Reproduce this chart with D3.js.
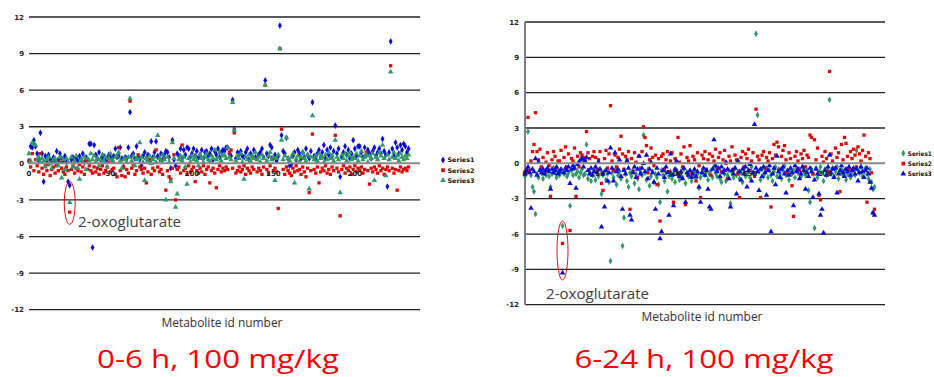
<!DOCTYPE html>
<html>
<head>
<meta charset="utf-8">
<script src="https://cdn.jsdelivr.net/npm/d3@7"></script>
<style>
  body { margin: 0; background: #fff; }
  svg { display: block; }
</style>
</head>
<body>
<svg id="chart" width="934" height="377"></svg>
<script>
// ---- data: fold change per metabolite ----
var yTicks = [-12, -9, -6, -3, 0, 3, 6, 9, 12];
var xTicks = [0, 50, 100, 150, 200];
var seriesNames = ["Series1", "Series2", "Series3"];

// 0-6 h
var early1 = [0.2,1.4,1.3,1.9,1.4,0.8,0.2,2.5,0.8,-1.5,0.6,0.1,0.7,0.3,0.2,0.5,0.1,1.0,0.3,0.8,
  0.4,0.2,0.6,0.1,-1.5,-1.8,0.3,0.5,0.2,0.4,0.2,0.6,0.3,0.8,0.1,0.5,0.3,1.6,1.6,-6.9,
  1.5,0.7,0.4,0.9,0.3,0.5,0.6,0.2,0.4,0.7,0.5,0.3,0.6,1.2,0.5,0.6,1.3,0.4,-0.3,0.5,
  0.4,1.3,4.2,0.6,0.8,0.4,1.4,0.5,0.3,-0.2,0.6,0.9,0.4,0.7,0.2,1.8,0.5,0.9,1.8,0.6,
  0.4,0.8,0.3,0.7,1.0,0.9,0.5,-0.4,1.9,0.3,-0.2,0.8,0.6,1.2,0.4,1.1,0.7,1.3,1.2,0.5,
  0.8,1.2,0.6,1.0,0.5,0.7,1.1,0.4,0.9,1.0,0.6,0.8,1.2,0.3,1.0,0.7,1.2,0.5,0.9,1.1,
  1.0,1.3,1.3,0.8,0.6,5.2,2.8,0.4,0.9,0.7,1.0,0.6,0.5,0.9,1.2,0.3,0.8,0.6,1.1,0.5,
  0.4,0.7,0.9,1.2,0.5,6.8,0.8,0.6,1.5,1.3,0.4,0.7,0.2,0.6,11.3,2.3,1.0,0.8,2.1,0.4,
  -0.2,-0.1,0.6,0.9,0.3,1.1,0.8,0.4,0.9,0.5,1.2,0.7,0.4,1.0,5.0,0.6,0.3,0.8,1.1,0.5,
  0.9,1.5,0.4,1.1,0.7,1.3,0.6,1.0,3.1,0.8,1.2,-1.1,0.5,0.9,1.4,0.7,1.1,0.4,0.8,1.9,
  1.2,0.6,1.4,1.4,0.9,0.5,1.3,0.7,1.1,0.8,0.4,1.0,1.3,0.6,0.9,1.2,0.8,2.0,1.0,0.7,
  -1.9,0.9,10.0,1.2,0.6,1.7,1.3,0.8,1.5,1.1,1.6,1.4,0.9,1.2];
var early2 = [0.2,-0.3,0.8,-0.6,0.3,-0.2,-0.7,0.8,-0.4,-0.9,-0.2,-0.6,-0.1,-1.0,-0.5,-0.3,-0.8,-0.2,-0.6,0.1,
  -0.4,-0.7,-0.9,-0.3,-0.6,-4.0,-0.5,-0.2,-0.8,-0.4,-0.6,-0.1,-0.7,-0.3,-0.9,0.2,-0.5,-0.2,-0.6,-0.8,
  -0.3,-0.7,-0.4,-0.9,-0.5,-0.2,-0.8,-0.6,-0.3,0.1,-0.7,-0.5,-0.4,-0.9,-1.1,1.3,-0.6,-1.0,-0.3,-1.1,
  -0.5,-0.8,5.1,-0.4,-0.2,-0.9,-0.6,0.7,-0.3,-0.5,-0.8,-0.4,-1.6,-0.7,0.3,-0.9,-0.4,-0.6,1.1,-0.3,
  -0.7,-0.5,-0.9,0.4,-2.2,-0.6,-1.1,-1.3,-0.4,0.7,-3.0,-0.5,-0.3,-0.8,1.5,-0.6,-0.4,-0.9,-0.2,-0.7,
  -0.5,-0.3,-1.5,-0.6,-0.8,-0.4,-0.7,-0.2,-0.9,-0.5,-0.3,-1.6,-0.6,-0.4,-0.8,-2.0,-0.5,-0.2,-0.7,-0.4,
  -0.6,-0.3,-0.5,0.9,1.1,-0.4,2.5,-0.8,-0.6,-0.3,-0.7,-0.5,-0.2,-0.9,-0.4,-0.6,-0.8,-0.3,-0.5,0.4,
  -0.7,-0.4,-0.6,-0.9,-0.3,6.4,-0.5,-0.8,-0.2,0.5,-0.6,-0.4,-0.7,-3.7,9.4,2.8,-0.5,-0.9,-0.3,-0.6,
  -0.8,-1.0,-0.4,-0.7,-0.2,-0.6,-0.5,-0.9,-0.3,-0.7,-1.1,-0.4,-2.4,-0.6,2.4,-0.5,-0.8,-0.3,-1.6,-0.7,
  -0.4,-0.6,-0.2,-0.8,-0.5,-0.9,-0.3,-0.6,2.3,-0.4,-0.7,-4.3,-0.5,-0.2,-0.8,-0.4,-0.6,-0.3,-0.9,-0.5,
  -0.2,-0.7,-0.4,-0.6,-0.3,-0.8,-0.5,0.9,-0.6,-1.7,-0.4,-0.7,-0.3,-0.5,-0.8,-0.2,-0.6,-0.4,-0.9,-0.5,
  -0.3,-0.6,8.0,-0.4,-0.8,-0.5,-2.2,-0.6,-0.3,-0.7,-0.5,-0.4,-0.6,-0.3];
var early3 = [0.8,0.2,1.7,1.6,1.5,0.3,0.5,0.1,0.4,0.2,-0.3,0.3,0.5,0.0,-0.4,0.3,0.4,0.1,-0.2,0.5,
  -1.2,0.3,-0.5,0.4,0.1,-3.2,0.5,-0.3,0.2,0.6,-0.4,-1.3,0.3,0.1,0.5,-0.5,0.4,0.2,0.8,0.3,
  0.6,0.1,0.4,-0.2,0.3,0.7,0.2,0.5,-0.3,0.4,0.8,0.3,0.1,0.5,0.6,0.9,0.2,-0.4,0.3,0.4,
  0.1,0.5,5.3,0.2,0.6,-0.2,0.4,0.3,1.7,0.5,0.1,-1.4,0.4,0.2,0.6,0.0,0.3,0.5,0.1,2.3,
  0.4,0.2,0.7,0.3,-3.0,0.5,0.1,-1.5,1.7,0.4,-3.6,-2.5,0.3,0.6,0.2,0.5,-0.3,-1.7,0.4,0.1,
  0.6,0.3,0.5,0.2,-0.2,0.7,0.4,0.1,0.5,0.8,0.3,0.2,0.6,0.4,1.1,0.3,0.5,0.9,0.2,0.6,
  0.7,0.4,1.3,0.5,0.3,5.0,2.7,0.2,0.6,0.4,0.8,0.1,-1.3,0.5,0.3,0.7,0.2,0.6,0.4,0.9,
  0.3,0.5,0.1,0.7,0.4,6.4,0.2,0.6,0.9,0.3,0.5,-1.4,0.4,0.7,9.4,1.9,0.3,0.6,2.1,0.4,
  0.2,0.5,0.8,-1.6,0.3,0.6,0.1,0.5,0.9,0.4,0.2,0.7,-2.1,0.5,3.9,0.3,0.6,0.2,0.8,0.4,
  0.5,0.1,0.7,0.3,0.9,0.4,0.6,0.2,1.9,0.5,0.3,-2.4,0.7,0.4,0.8,0.2,0.6,0.9,0.3,0.5,
  0.4,0.8,0.2,0.6,1.0,0.3,0.5,0.7,0.1,0.6,0.4,0.8,-1.4,0.5,0.3,0.9,0.6,1.5,0.4,-1.0,
  0.7,0.3,7.5,0.5,0.9,0.4,0.6,0.2,0.8,0.5,0.3,0.6,0.4,0.7];

// 6-24 h
var late1 = [-1.1,-0.8,2.7,-0.6,-1.0,-2.0,-2.4,-4.3,-0.9,-1.2,-0.5,-0.8,-1.3,-0.7,-1.0,-0.6,-1.1,-2.0,-0.9,-0.4,
  -0.8,-1.2,-0.6,-1.0,-0.7,-5.3,-0.9,-0.5,-1.1,-0.8,-3.6,-0.6,-1.0,-0.4,-0.9,-0.7,-1.2,-0.8,-0.5,-1.0,
  -0.9,1.6,-1.3,-0.7,-1.5,-1.0,-0.6,-1.4,-0.8,-1.1,-0.5,-2.6,-1.0,-0.7,-1.4,-0.9,-1.6,-8.3,-0.8,-1.2,
  -0.6,-1.8,-1.0,-0.7,-1.3,-7.0,-4.6,-0.9,-1.5,-2.0,-0.8,-1.1,-0.6,-1.7,-0.9,-1.3,-2.2,-0.7,-1.0,2.4,
  -0.8,-1.4,-0.5,-1.9,-1.1,-0.7,-1.6,-0.9,-1.2,-1.8,-3.3,-0.6,-1.0,-1.5,-0.8,-2.4,-1.1,-0.7,-1.3,-0.9,
  -1.6,-0.6,-1.0,-1.4,-0.8,-1.2,-0.5,-1.7,-0.9,-1.1,-0.7,-1.5,-1.0,-0.6,-1.3,-0.9,-2.1,-1.2,-0.8,-0.5,
  -1.0,-0.7,-1.4,-0.9,-0.6,-1.2,-0.3,-0.8,-1.1,-0.5,-1.3,-1.6,-0.7,-0.9,-1.5,-1.0,-0.6,-3.4,-0.8,-1.2,
  -0.4,-1.0,-0.7,-1.3,-0.8,-1.6,-0.5,-1.1,-0.9,-0.6,-1.2,-0.3,-0.8,-1.0,11.0,4.1,-0.7,-1.4,-0.5,-1.1,
  -0.8,-0.4,-1.2,-0.6,-1.0,-1.5,-0.7,-0.3,-1.1,-0.5,-0.9,-1.3,-0.6,-0.2,-1.0,-0.8,-1.4,-0.5,-0.9,-0.6,
  -1.2,-0.4,-0.8,-0.5,-1.1,-0.3,-0.7,-1.0,-0.6,-2.3,-3.3,-0.5,-0.9,-5.5,-0.4,-1.2,-0.7,-0.3,-0.8,-1.5,
  -0.5,-1.0,-0.6,5.4,-0.9,-0.4,-1.1,-0.7,-0.3,-1.3,-0.8,-0.5,-1.0,-0.6,-1.4,-0.9,-0.4,-1.2,-0.7,-0.5,
  -1.0,1.1,-0.6,-0.8,-0.3,-1.1,-0.7,-0.4,-0.9,-1.3,-0.5,-1.6,-2.2,-2.0];
var late2 = [-0.7,-0.5,3.9,-0.6,0.2,1.0,1.6,4.3,1.0,0.3,1.2,-0.3,0.5,-0.8,0.1,0.9,-0.2,-2.8,0.3,1.0,
  0.6,-0.4,0.2,0.2,1.1,-6.8,0.5,1.4,-0.3,0.8,-5.7,0.4,0.2,1.3,-2.8,0.6,-0.3,0.9,0.7,0.5,
  0.3,2.7,0.9,0.4,-0.9,0.6,1.0,0.5,-0.5,0.3,1.0,-1.7,-2.3,0.4,1.1,-0.4,0.8,4.9,0.2,-0.6,
  0.7,-0.3,0.5,1.2,2.3,0.8,-0.5,0.6,0.3,1.0,-3.9,0.4,-0.7,0.9,0.1,-1.2,0.6,-0.4,1.0,3.1,
  2.2,1.5,-0.8,0.3,1.3,0.5,-0.2,0.7,-1.8,0.4,-4.9,0.6,0.8,-0.5,0.3,1.0,-0.7,0.2,0.9,-3.3,
  0.4,-0.6,2.2,0.1,0.8,-0.3,1.4,-3.5,0.5,0.2,1.5,-0.8,0.6,0.3,-1.5,0.9,-0.2,-2.9,0.7,0.4,
  1.0,-0.5,0.3,0.8,-1.0,0.6,0.2,1.2,-0.4,0.5,0.9,-0.7,0.3,1.1,0.0,-1.3,0.6,0.2,1.4,-0.5,
  0.7,0.3,-0.9,-2.9,0.5,1.0,-0.3,0.8,0.4,1.2,-0.6,0.2,0.9,-1.1,4.6,0.6,0.3,-2.9,0.7,1.0,
  -0.4,0.5,0.2,0.9,-3.7,0.4,1.6,0.7,1.8,1.4,-0.5,0.6,1.1,1.5,0.3,-0.8,0.9,0.4,-1.9,-4.5,
  0.6,1.0,0.2,-0.6,0.8,0.4,1.1,-0.3,0.7,0.5,2.4,2.2,-0.9,2.0,0.3,1.3,-2.7,-3.1,0.6,0.1,
  1.0,0.4,-0.7,7.8,0.8,0.2,-0.4,1.3,0.5,0.9,-2.4,1.6,0.3,2.2,1.7,0.6,-0.5,1.0,0.4,1.2,
  0.7,-0.3,1.4,0.8,0.2,1.1,2.4,0.6,-3.3,0.9,0.4,-0.8,-4.2,-3.9];
var late3 = [-0.9,-0.6,-0.3,-0.8,-3.8,-0.5,-0.7,0.4,-1.0,0.1,-0.6,-0.8,-0.5,-0.9,-0.6,-0.4,-0.7,-2.2,-0.5,-0.8,
  -0.6,-0.3,-0.9,-0.7,-0.5,-9.3,-0.8,-0.4,-0.6,-0.3,-1.7,-0.5,-0.2,-0.4,-2.1,-0.1,0.1,0.3,0.4,-0.3,
  0.2,0.5,-0.6,-0.9,-0.4,-1.0,-0.7,-0.3,-0.8,0.1,-0.5,-5.4,-0.9,-3.7,-0.6,-1.5,-0.8,1.3,-0.4,-1.5,
  0.9,-0.7,-0.5,0.3,-1.1,-3.9,-0.6,-0.9,0.2,-0.4,-4.4,-4.8,-0.8,-0.3,-1.2,-0.5,0.6,-0.9,-0.4,0.0,
  -0.7,0.7,-1.3,-0.5,0.1,-0.8,-1.6,-3.9,-0.4,-0.9,-6.4,-5.8,-0.6,-1.2,-0.3,-0.8,-4.4,0.8,-1.0,-3.6,
  -0.5,0.2,-0.9,-1.1,-0.7,-1.3,-0.4,-3.3,-0.8,-1.0,-0.6,-1.2,-0.9,-0.5,-1.1,-0.7,-2.0,-3.3,-0.8,-0.4,
  -1.0,-0.6,-2.2,-3.7,-3.9,-0.5,2.0,-0.2,-0.7,-0.4,-1.1,-0.3,-0.8,-0.6,0.1,-0.5,-1.3,-3.7,-0.6,-0.9,
  -0.4,-2.6,0.2,-0.7,-1.4,-0.5,-0.9,-0.3,-2.0,-0.6,-0.1,-1.5,-0.8,3.3,-0.4,-0.7,-2.3,-0.5,-1.1,-0.3,
  -0.8,-2.7,-0.6,-0.2,-5.8,-0.9,-0.4,-1.8,0.6,-0.7,-1.2,-0.5,-0.3,-0.9,-2.5,-0.6,-1.0,-0.4,-0.8,-3.6,
  -0.2,-0.7,-0.5,-1.3,-0.9,-0.3,-0.6,-2.2,-0.8,-1.1,-0.4,-0.7,-2.9,-1.4,-0.5,-0.9,-2.6,-4.4,-3.9,-5.9,
  -0.6,-1.0,-0.3,0.7,-0.8,-0.5,-1.2,-0.4,-2.5,-0.9,-0.6,-0.2,-0.8,-1.1,-0.5,-0.7,-0.3,-1.0,-0.6,-0.4,
  -0.9,-0.5,-1.5,-0.8,-0.3,-0.7,-1.2,-0.6,-0.4,-0.9,-1.6,-2.1,-4.2,-4.4];

// 2-oxoglutarate: metabolite index and the value span the ellipse covers
var oxoIdx = [25, 25];
var oxoSpan = [[-1.5, -5.0], [-4.9, -9.9]];

var blue = "#0b0bd6", red = "#dd0a0a", green = "#2f9a68";

var svg = d3.select("#chart");

var panels = [
  { x0: 29, x1: 420, yTop: 17, yBot: 309.7, yAxisLine: false,
    series: [early1, early2, early3], colors: [blue, red, green],
    legendX: 443, legendY: 160, legendGap: 10.2, legendW: 27,
    title: "0-6 h, 100 mg/kg", titleX: 218, titleW: 242,
    xTitleX: 222, xTitleY: 327,
    noteX: 78, noteY: 227, noteW: 103 },
  { x0: 525, x1: 885, yTop: 22, yBot: 304.7, yAxisLine: true,
    series: [late1, late2, late3], colors: [green, red, blue],
    legendX: 903.3, legendY: 153.3, legendGap: 10.3, legendW: 24,
    title: "6-24 h, 100 mg/kg", titleX: 704, titleW: 259,
    xTitleX: 702, xTitleY: 321,
    noteX: 546, noteY: 299, noteW: 103 }
];

var shapes = [d3.symbolDiamond, d3.symbolSquare, d3.symbolTriangle];
var shapeSize = [13, 11, 13];

panels.forEach(function(p, pi) {
  var x = d3.scaleLinear().domain([0, 240]).range([p.x0, p.x1]);
  var y = d3.scaleLinear().domain([-12, 12]).range([p.yBot, p.yTop]);
  var g = svg.append("g");

  // gridlines
  g.selectAll("line.grid")
    .data(yTicks.filter(function(d) { return d !== 0; }))
    .join("line")
    .attr("x1", p.x0).attr("x2", p.x1)
    .attr("y1", function(d) { return y(d); })
    .attr("y2", function(d) { return y(d); })
    .attr("stroke", "#222").attr("stroke-width", 1.3);

  // y axis labels
  g.selectAll("text.ytick")
    .data(yTicks)
    .join("text")
    .attr("x", p.x0 - (pi === 0 ? 5 : 6))
    .attr("y", function(d) { return y(d) + 2.6; })
    .attr("text-anchor", "end")
    .attr("font-family", "DejaVu Sans, sans-serif")
    .attr("font-weight", "bold")
    .attr("font-size", 7)
    .attr("fill", "#222")
    .text(function(d) { return d; });

  if (p.yAxisLine) {
    g.append("line")
      .attr("x1", p.x0).attr("x2", p.x0)
      .attr("y1", p.yTop).attr("y2", p.yBot)
      .attr("stroke", "#7f7f7f").attr("stroke-width", 2);
  }

  // data points
  p.series.forEach(function(vals, si) {
    var sym = d3.symbol().type(shapes[si]).size(shapeSize[si]);
    g.append("g").selectAll("path")
      .data(vals)
      .join("path")
      .attr("transform", function(d, i) { return "translate(" + x(i) + "," + y(d) + ")"; })
      .attr("d", sym)
      .attr("fill", p.colors[si]);
  });

  // zero axis line
  g.append("line")
    .attr("x1", p.x0).attr("x2", p.x1)
    .attr("y1", y(0)).attr("y2", y(0))
    .attr("stroke", "#8a8a8a").attr("stroke-width", 2);

  // x tick labels sit right under the zero line
  g.selectAll("text.xtick")
    .data(xTicks)
    .join("text")
    .attr("x", function(d) { return x(d); })
    .attr("y", y(0) + 12.5)
    .attr("text-anchor", "middle")
    .attr("font-family", "DejaVu Sans, sans-serif")
    .attr("font-weight", "bold")
    .attr("font-size", 7)
    .attr("fill", "#222")
    .text(function(d) { return d; });

  // legend
  seriesNames.forEach(function(name, si) {
    var ly = p.legendY + si * p.legendGap;
    g.append("path")
      .attr("transform", "translate(" + p.legendX + "," + ly + ")")
      .attr("d", d3.symbol().type(shapes[si]).size(14))
      .attr("fill", p.colors[si]);
    g.append("text")
      .attr("x", p.legendX + 4.5)
      .attr("y", ly + 2.4)
      .attr("font-family", "DejaVu Sans, sans-serif")
      .attr("font-weight", "bold")
      .attr("font-size", 6.3)
      .attr("fill", "#111")
      .attr("textLength", p.legendW)
      .attr("lengthAdjust", "spacingAndGlyphs")
      .text(name);
  });

  // annotation
  var sp = oxoSpan[pi];
  g.append("ellipse")
    .attr("cx", x(oxoIdx[pi]))
    .attr("cy", (y(sp[0]) + y(sp[1])) / 2)
    .attr("rx", 5.5)
    .attr("ry", Math.abs(y(sp[1]) - y(sp[0])) / 2)
    .attr("fill", "none")
    .attr("stroke", "#e01010").attr("stroke-width", 1);
  g.append("text")
    .attr("x", p.noteX).attr("y", p.noteY)
    .attr("font-family", "Open Sans, sans-serif")
    .attr("font-size", 15)
    .attr("fill", "#404040")
    .attr("textLength", p.noteW)
    .attr("lengthAdjust", "spacingAndGlyphs")
    .text("2-oxoglutarate");

  // axis title
  g.append("text")
    .attr("x", p.xTitleX).attr("y", p.xTitleY)
    .attr("text-anchor", "middle")
    .attr("font-family", "Open Sans, sans-serif")
    .attr("font-size", 12)
    .attr("fill", "#333")
    .attr("textLength", 121)
    .attr("lengthAdjust", "spacingAndGlyphs")
    .text("Metabolite id number");

  // panel title
  g.append("text")
    .attr("x", p.titleX - p.titleW / 2).attr("y", 367.5)
    .attr("font-family", "Open Sans, sans-serif")
    .attr("font-size", 26)
    .attr("fill", "#ff0000")
    .attr("textLength", p.titleW)
    .attr("lengthAdjust", "spacingAndGlyphs")
    .text(p.title);
});
</script>
</body>
</html>
